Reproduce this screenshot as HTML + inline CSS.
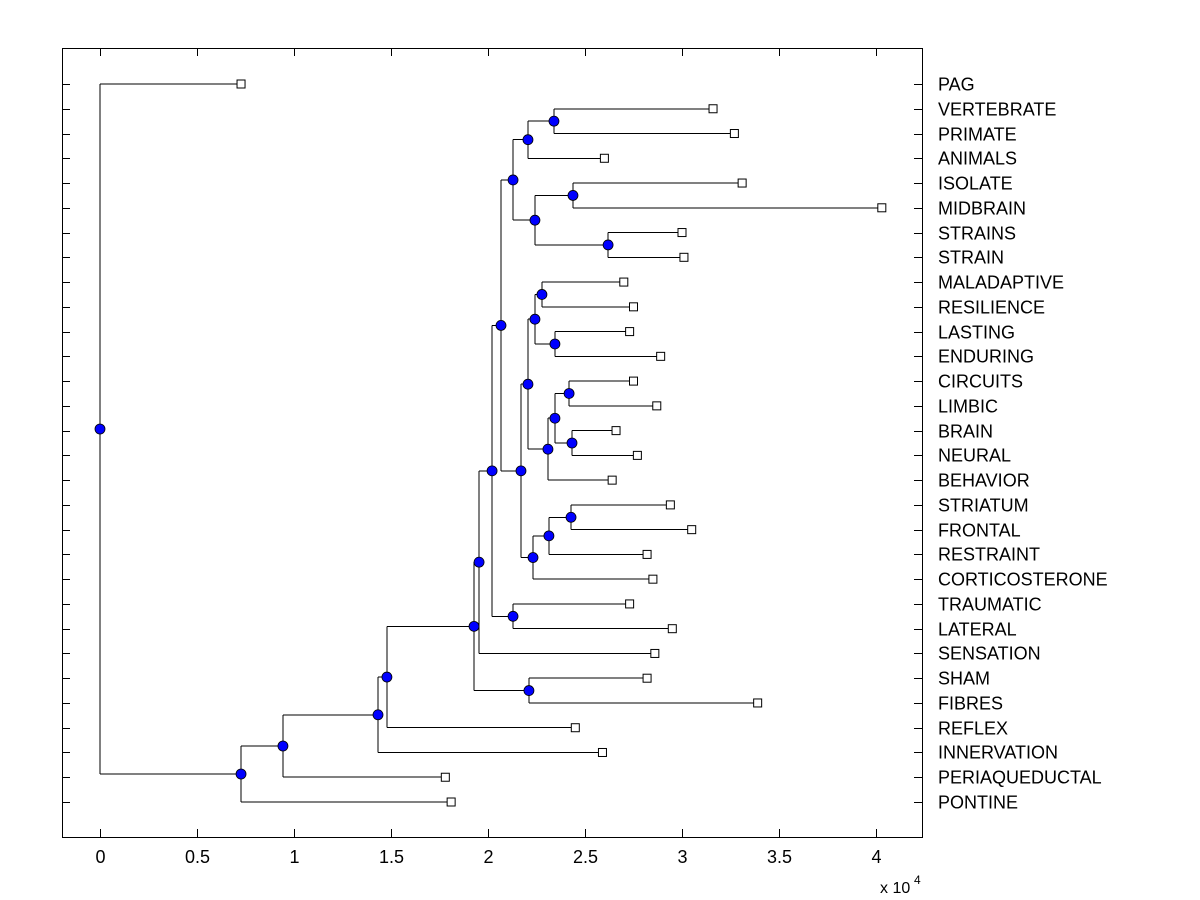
<!DOCTYPE html>
<html><head><meta charset="utf-8"><style>
html,body{margin:0;padding:0;background:#fff;width:1200px;height:900px;overflow:hidden}
svg text{font-family:"Liberation Sans",Arial,sans-serif;font-size:18px;fill:#000}
</style></head><body>
<svg id="c" width="1200" height="900"></svg>
<script>
// data
const leafNames=["PAG","VERTEBRATE","PRIMATE","ANIMALS","ISOLATE","MIDBRAIN","STRAINS","STRAIN","MALADAPTIVE","RESILIENCE","LASTING","ENDURING","CIRCUITS","LIMBIC","BRAIN","NEURAL","BEHAVIOR","STRIATUM","FRONTAL","RESTRAINT","CORTICOSTERONE","TRAUMATIC","LATERAL","SENSATION","SHAM","FIBRES","REFLEX","INNERVATION","PERIAQUEDUCTAL","PONTINE"];
const leafValues=[0.727,3.16,3.27,2.60,3.31,4.03,3.00,3.01,2.70,2.75,2.73,2.89,2.75,2.87,2.66,2.77,2.64,2.94,3.05,2.82,2.85,2.73,2.95,2.86,2.82,3.39,2.45,2.59,1.78,1.81];
// merge heights (x 10^4), indexed by node id
const nodeHeights=[0,0.727,0.943,1.433,1.479,1.928,2.211,1.954,2.021,2.067,2.129,2.206,2.340,2.242,2.438,2.619,2.170,2.206,2.242,2.278,2.345,2.309,2.345,2.418,2.433,2.232,2.314,2.428,2.129];
const xTicks=[0,0.5,1,1.5,2,2.5,3,3.5,4];
// tree: [nodeId, left, right]; {l:i} = leaf index
const tree=[0,{l:0},[1,[2,[3,[4,[5,[7,[8,[9,[10,[11,[12,{l:1},{l:2}],{l:3}],[13,[14,{l:4},{l:5}],[15,{l:6},{l:7}]]],
 [16,[17,[18,[19,{l:8},{l:9}],[20,{l:10},{l:11}]],[21,[22,[23,{l:12},{l:13}],[24,{l:14},{l:15}]],{l:16}]],
  [25,[26,[27,{l:17},{l:18}],{l:19}],{l:20}]]],
 [28,{l:21},{l:22}]],{l:23}],[6,{l:24},{l:25}]],{l:26}],{l:27}],{l:28}],{l:29}]];

const NS="http://www.w3.org/2000/svg",svg=document.getElementById('c');
const L=62,R=922,T=48,B=837;
const xs=v=>100+v*194;
const ys=i=>84+i*(802-84)/29;
function el(t,a,p){const e=document.createElementNS(NS,t);for(const k in a)e.setAttribute(k,a[k]);(p||svg).appendChild(e);return e;}
const gl=el('g',{});
const gn=el('g',{});
const gm=el('g',{});
function line(x1,y1,x2,y2){const e=el('line',{x1,y1,x2,y2,stroke:'#000','stroke-width':1,'shape-rendering':'crispEdges'},gl);}
const nodeDraws=[];
function walk(n,px){
  if(n.l!==undefined){
    const y=ys(n.l),x=xs(leafValues[n.l]);
    line(px,y,x,y);
    const r=el('rect',{x:x-4,y:y-4,width:8,height:8,fill:'#fff',stroke:'#000','stroke-width':1},gm);
    
    return y;
  }
  const x=xs(nodeHeights[n[0]]);
  const y1=walk(n[1],x),y2=walk(n[2],x);
  line(x,y1,x,y2);
  const y=(y1+y2)/2;
  if(px!==null)line(px,y,x,y);
  nodeDraws.push([x,y]);
  return y;
}
walk(tree,null);
nodeDraws.forEach(([x,y])=>{const c=el('circle',{cx:x,cy:y,r:5,fill:'#0000ff',stroke:'#000','stroke-width':0.8},gn);});
svg.appendChild(gm);
// axes
const ax=el('rect',{x:L+0.5,y:T+0.5,width:R-L,height:B-T,fill:'none',stroke:'#000','stroke-width':1});

xTicks.forEach(v=>{const x=Math.round(xs(v))+0.5;
  el('line',{x1:x,y1:B,x2:x,y2:B-8,stroke:'#000'});
  el('line',{x1:x,y1:T,x2:x,y2:T+8,stroke:'#000'});
  const t=el('text',{x:x,y:B+26,'text-anchor':'middle'});t.textContent=String(v);
  });
leafNames.forEach((n,i)=>{const y=Math.round(ys(i))+0.5;
  el('line',{x1:L,y1:y,x2:L+8,y2:y,stroke:'#000'});
  el('line',{x1:R-8,y1:y,x2:R,y2:y,stroke:'#000'});
  const t=el('text',{x:938,y:y+6});t.textContent=n;
  });
const sc=el('text',{x:880,y:893,style:'font-size:16px'});sc.textContent='x 10';

const sp=el('text',{x:914,y:884,style:'font-size:12px'});sp.textContent='4';

</script>
</body></html>
